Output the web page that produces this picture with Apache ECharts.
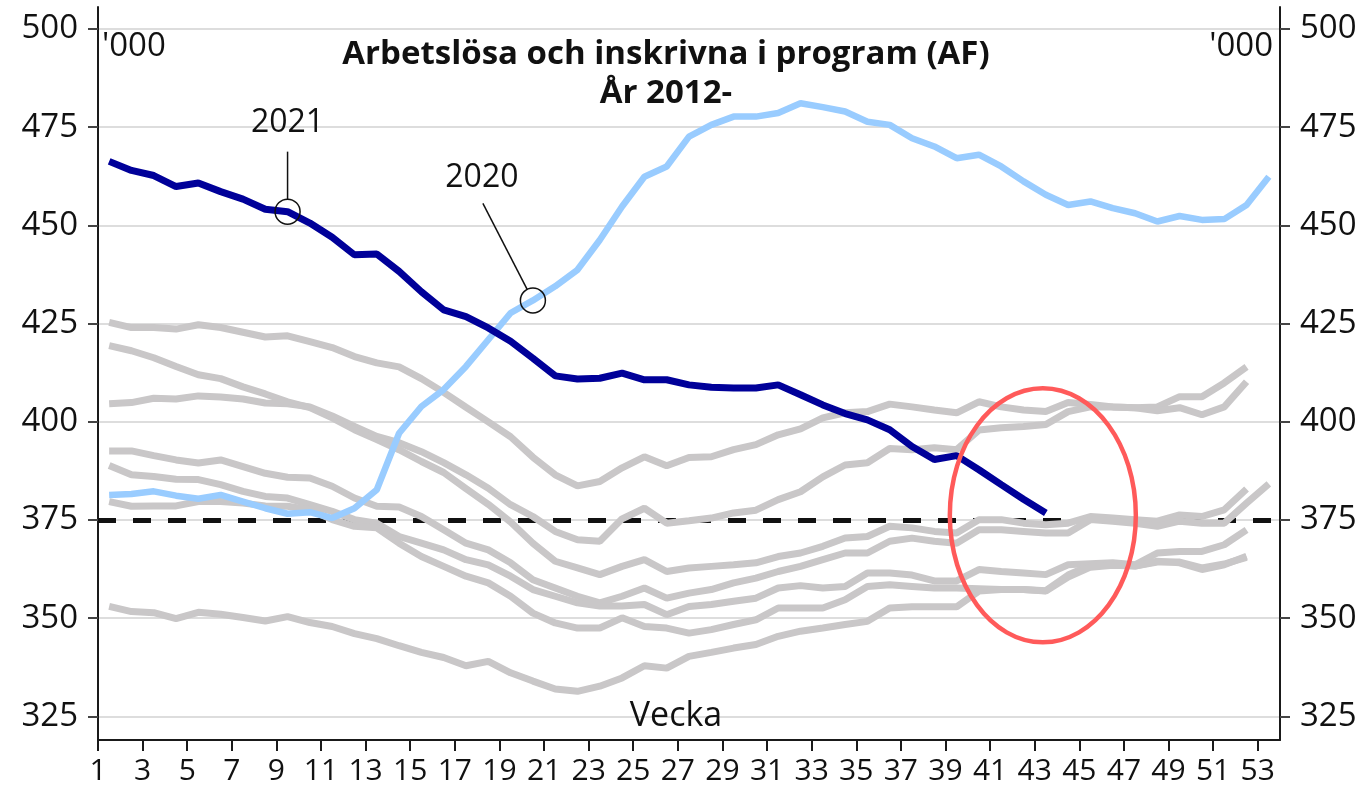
<!DOCTYPE html>
<html>
<head>
<meta charset="utf-8">
<script src="https://cdn.jsdelivr.net/npm/echarts@6/dist/echarts.min.js"></script>
<style>
  html, body { margin: 0; padding: 0; background: #fff; }
  #chart { width: 1368px; height: 792px; }
</style>
</head>
<body>
<div id="chart"></div>
<script>
// veckor 1-53
const weeks = ['1','2','3','4','5','6','7','8','9','10','11','12','13','14','15','16','17','18','19','20',
  '21','22','23','24','25','26','27','28','29','30','31','32','33','34','35','36','37','38','39','40',
  '41','42','43','44','45','46','47','48','49','50','51','52','53'];
const xTicks = [1,3,5,7,9,11,13,15,17,19,21,23,25,27,29,31,33,35,37,39,41,43,45,47,49,51,53];
const yTicks = [325,350,375,400,425,450,475,500];
const refLevel = 375;

// tidigare år (grå), tusental
const gray1 = [425.3,424.0,424.0,423.6,424.7,424.0,422.8,421.6,421.9,420.4,418.9,416.6,415.0,414.0,411.0,407.5,403.7,
  400.0,396.2,391.0,386.5,383.7,384.8,388.3,391.1,388.8,390.9,391.1,392.9,394.2,396.7,398.2,401.0,402.3,402.6,404.5,
  403.8,403.0,402.3,405.1,403.8,403.0,402.6,404.9,404.4,403.8,403.6,403.8,406.4,406.4,409.9,414.0];
const gray2 = [404.6,404.9,406.0,405.8,406.6,406.3,405.8,404.8,404.6,403.8,401.5,398.8,396.3,394.7,392.4,389.6,386.5,
  383.1,378.9,375.9,372.1,370.0,369.6,375.3,378.0,374.2,374.8,375.5,376.8,377.5,380.2,382.2,386.0,389.0,389.6,393.2,
  392.9,393.4,392.9,397.9,398.5,398.8,399.3,402.6,403.8,403.8,403.6,402.8,403.6,401.8,403.8,410.2];
const gray3 = [419.4,418.1,416.3,414.1,412.0,411.0,408.9,407.1,405.1,403.6,401.0,398.0,395.5,392.9,389.9,387.1,383.0,
  379.0,374.5,369.1,364.5,362.8,361.1,363.2,364.9,361.9,362.8,363.2,363.6,364.1,365.7,366.6,368.3,370.4,370.8,373.4,
  373.0,372.1,371.7,375.1,375.1,374.2,373.8,374.2,375.9,375.5,375.1,374.7,376.3,375.9,377.6,382.9];
const gray4 = [392.6,392.6,391.4,390.3,389.5,390.3,388.6,386.9,385.9,385.7,383.6,380.6,378.5,378.3,375.9,372.5,369.1,
  367.4,364.1,359.8,357.7,355.6,353.9,355.6,357.7,355.1,356.4,357.3,359.0,360.2,361.9,363.2,364.9,366.6,366.6,369.6,
  370.4,369.6,369.1,372.5,372.5,372.1,371.7,371.7,375.1,374.7,374.2,373.4,374.7,374.2,374.2,379.3,384.2];
const gray5 = [388.9,386.5,386.1,385.4,385.3,384.0,382.3,381.0,380.6,378.9,377.2,375.1,374.2,370.8,369.1,367.4,364.9,
  363.6,360.7,357.3,355.6,353.9,353.1,353.1,353.5,350.9,353.0,353.5,354.3,355.1,357.7,358.3,357.7,358.1,361.5,361.5,
  361.0,359.5,359.5,362.4,361.9,361.5,361.1,363.6,363.9,364.1,363.6,366.6,367.0,367.0,368.7,372.5];
const gray6 = [379.7,378.5,378.6,378.6,379.7,379.7,379.3,378.6,378.5,377.6,375.1,373.4,373.0,369.1,365.7,363.2,360.7,
  359.0,355.6,351.3,348.8,347.5,347.5,350.1,347.9,347.5,346.2,347.1,348.4,349.6,352.6,352.6,352.6,354.7,358.1,358.5,
  358.1,357.7,357.7,357.5,357.3,357.3,357.0,361.0,363.5,363.8,363.3,364.5,364.1,362.4,363.6,365.8];
const gray7 = [353.0,351.7,351.4,349.9,351.5,351.0,350.2,349.3,350.4,348.9,347.9,346.1,344.8,343.0,341.3,340.0,337.9,
  339.0,336.1,334.0,332.0,331.4,332.7,334.8,337.9,337.3,340.3,341.3,342.4,343.3,345.4,346.7,347.5,348.4,349.2,352.6,
  352.9,352.9,352.9,356.9,357.3,357.3,356.9,360.5,363.0,363.5,363.3,364.3,364.3,362.8,363.8,365.5];

const y2020 = [381.4,381.6,382.3,381.2,380.4,381.4,379.7,378.0,376.6,377.0,375.5,378.0,382.7,397.1,403.9,408.2,414.1,
  420.9,427.7,430.9,434.5,438.7,446.3,454.8,462.4,465.0,472.6,475.6,477.7,477.7,478.6,481.1,480.1,479.0,476.4,475.6,
  472.2,470.1,467.1,468.0,465.0,461.2,457.8,455.2,456.1,454.4,453.1,451.0,452.4,451.4,451.6,455.2,462.4];
const y2021 = [466.3,464.0,462.7,459.9,460.8,458.6,456.7,454.1,453.5,450.6,447.0,442.5,442.7,438.3,433.1,428.5,426.8,
  423.9,420.5,416.2,411.7,410.9,411.1,412.4,410.7,410.7,409.4,408.8,408.6,408.6,409.4,406.9,404.3,402.1,400.5,398.0,
  393.7,390.4,391.4,387.8,384.0,380.3,376.8];

const grayLines = [gray1, gray2, gray3, gray4, gray5, gray6, gray7];

const FONT = 'Open Sans';
const chart = echarts.init(document.getElementById('chart'), null, { renderer: 'canvas' });

const series = grayLines.map((d) => ({
  type: 'line',
  xAxisIndex: 1,
  data: d,
  symbol: 'none',
  z: 2,
  lineStyle: { color: '#c9c7c8', width: 7, join: 'bevel' },
}));
// streckad referenslinje
series[0].markLine = {
  silent: true,
  symbol: 'none',
  z: 1,
  label: { show: false },
  lineStyle: { color: '#111', width: 5, type: [18, 17] },
  data: [{ yAxis: refLevel }],
};
series.push({
  type: 'line', xAxisIndex: 1, data: y2020, symbol: 'none', z: 3,
  lineStyle: { color: '#99ccff', width: 6.5, join: 'bevel' },
});
series.push({
  type: 'line', xAxisIndex: 1, data: y2021, symbol: 'none', z: 4,
  lineStyle: { color: '#000099', width: 7, join: 'bevel' },
});
const idx2020 = series.length - 2;
const idx2021 = series.length - 1;

const yAxisBase = {
  type: 'value',
  min: 319,
  max: 505.6,
  axisLine: { show: true, lineStyle: { color: '#1a1a1a', width: 2 } },
  axisTick: { show: true, length: 10, customValues: yTicks, lineStyle: { color: '#444', width: 2 } },
  axisLabel: { customValues: yTicks, color: '#111', fontSize: 33, fontFamily: FONT, margin: 20 },
};

chart.setOption({
  animation: false,
  backgroundColor: '#fff',
  grid: { left: 98, right: 88, top: 7, bottom: 52, containLabel: false },
  xAxis: [
    {
      type: 'value',
      min: 1,
      max: 54,
      position: 'bottom',
      axisLine: { show: true, onZero: false, lineStyle: { color: '#1a1a1a', width: 2 } },
      axisTick: { show: true, length: 11, customValues: xTicks, lineStyle: { color: '#1a1a1a', width: 2 } },
      axisLabel: { customValues: xTicks, color: '#111', fontSize: 30, fontFamily: FONT, margin: 16 },
      splitLine: { show: false },
    },
    { type: 'category', data: weeks, boundaryGap: true, show: false },
  ],
  yAxis: [
    Object.assign({}, yAxisBase, {
      position: 'left',
      splitLine: { show: true, lineStyle: { color: '#d2d2d2', width: 1.5 } },
    }),
    Object.assign({}, yAxisBase, { position: 'right', splitLine: { show: false } }),
  ],
  series: series,
});

// annoteringar
const r = 12.5;
const c21 = chart.convertToPixel({ seriesIndex: idx2021 }, [8, y2021[8]]);
const c20 = chart.convertToPixel({ seriesIndex: idx2020 }, [19, y2020[19]]);
const ell = chart.convertToPixel({ seriesIndex: idx2021 }, [42, 376.2]);
const lab20 = [c20[0] - 51, c20[1] - 123];
const lead20 = [c20[0] - 50, c20[1] - 97];
const dx = lead20[0] - c20[0], dy = lead20[1] - c20[1];
const dl = Math.sqrt(dx * dx + dy * dy);
const edge20 = [c20[0] + dx / dl * r, c20[1] + dy / dl * r];

const txt = (x, y, text, extra) => ({
  type: 'text', x: x, y: y, z: 10,
  style: Object.assign({ text: text, fill: '#111', font: '32px "' + FONT + '"', textAlign: 'center', textVerticalAlign: 'middle' }, extra || {}),
});

chart.setOption({
  graphic: [
    txt(666, 55, 'Arbetslösa och inskrivna i program (AF)', { font: 'bold 33px "' + FONT + '"' }),
    txt(666, 94, 'År 2012-', { font: 'bold 33px "' + FONT + '"' }),
    txt(102, 47, "'000", { textAlign: 'left', font: '33px "' + FONT + '"' }),
    txt(1273, 47, "'000", { textAlign: 'right', font: '33px "' + FONT + '"' }),
    txt(676, 716, 'Vecka', { font: '34px "' + FONT + '"' }),
    txt(c21[0], c21[1] - 89, '2021'),
    txt(lab20[0], lab20[1], '2020'),
    {
      type: 'line', z: 10,
      shape: { x1: c21[0], y1: c21[1] - 60, x2: c21[0], y2: c21[1] - r },
      style: { stroke: '#111', lineWidth: 1.5 },
    },
    {
      type: 'line', z: 10,
      shape: { x1: lead20[0], y1: lead20[1], x2: edge20[0], y2: edge20[1] },
      style: { stroke: '#111', lineWidth: 1.5 },
    },
    { type: 'circle', z: 10, shape: { cx: c21[0], cy: c21[1], r: r }, style: { fill: 'none', stroke: '#111', lineWidth: 1.5 } },
    { type: 'circle', z: 10, shape: { cx: c20[0], cy: c20[1], r: r }, style: { fill: 'none', stroke: '#111', lineWidth: 1.5 } },
    {
      type: 'ellipse', z: 11,
      shape: { cx: ell[0] - 3, cy: ell[1], rx: 93, ry: 127 },
      style: { fill: 'none', stroke: '#ff5a5a', lineWidth: 4.5 },
    },
  ],
});
</script>
</body>
</html>
